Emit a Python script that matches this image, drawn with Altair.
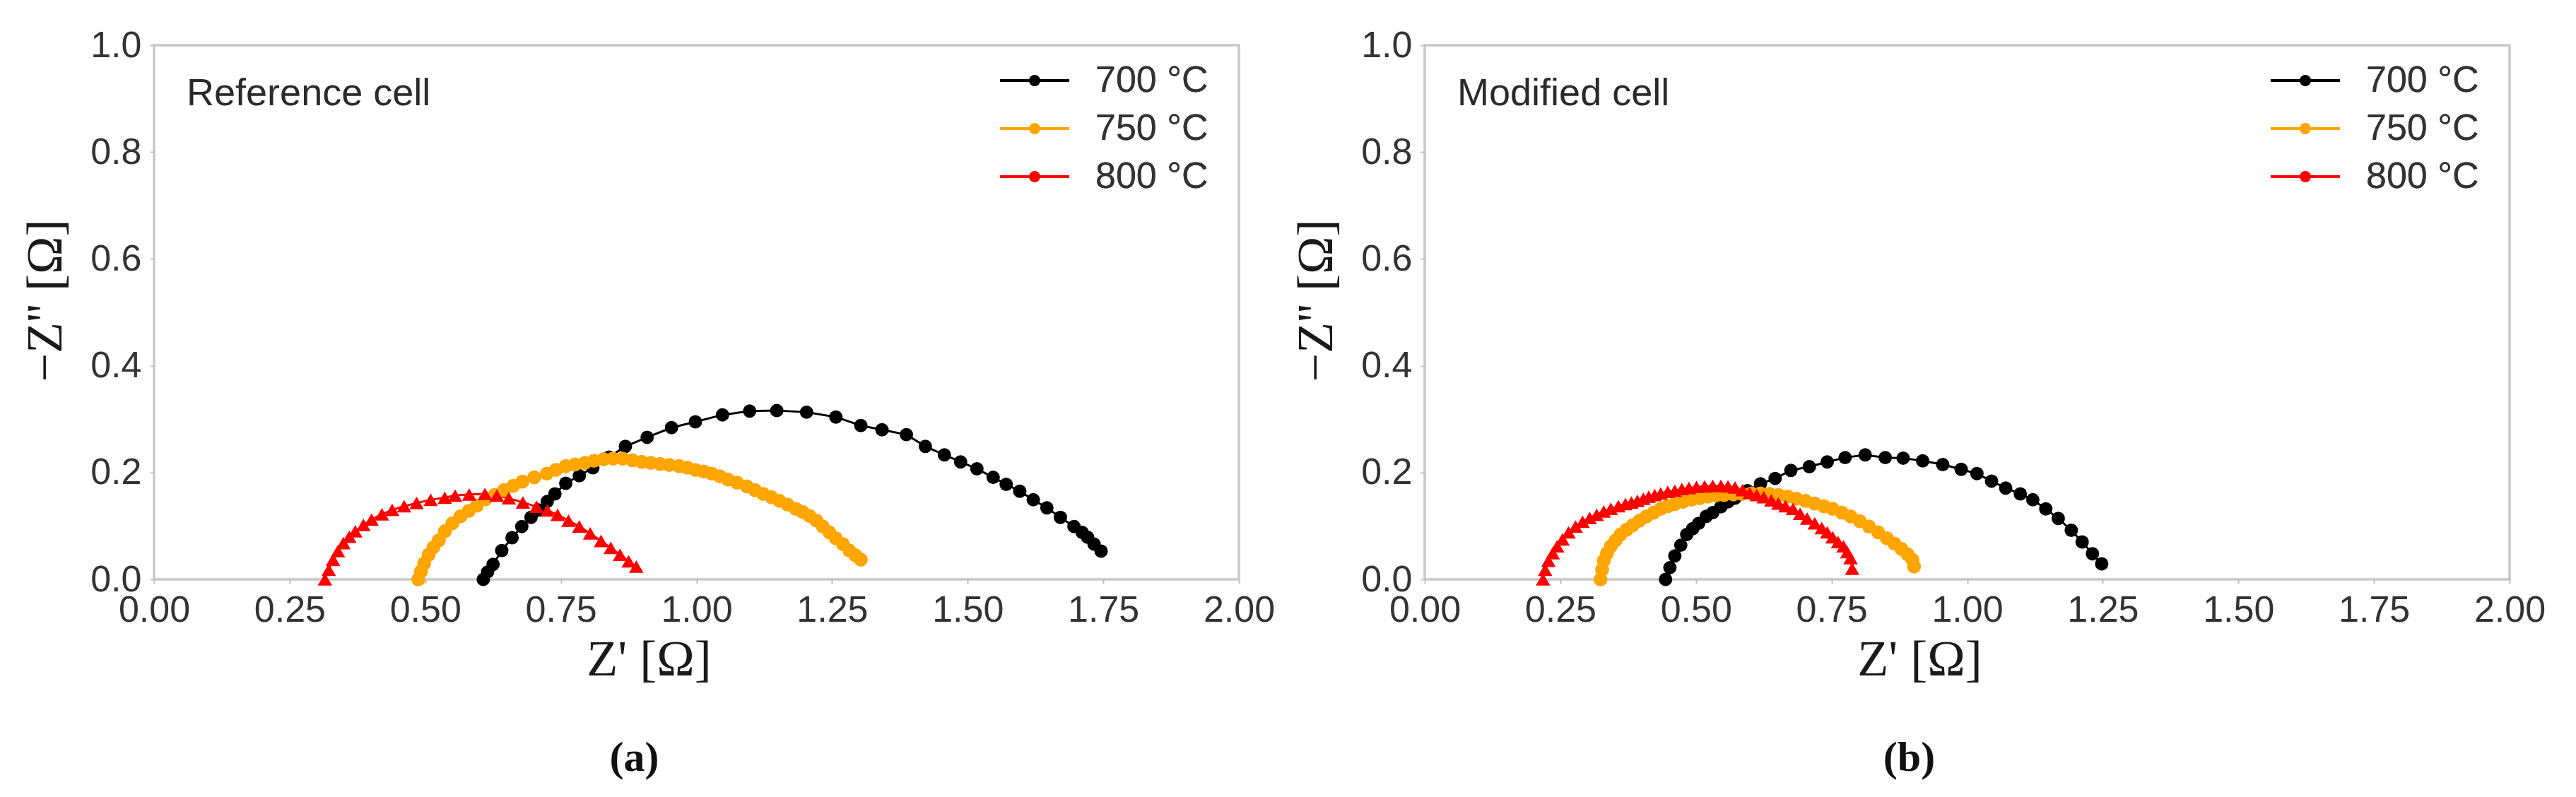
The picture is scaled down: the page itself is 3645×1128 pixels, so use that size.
import altair as alt
import pandas as pd

SERIES = ["700 °C", "750 °C", "800 °C"]
COLORS = ["#000000", "#FFA500", "#FF0000"]
SHAPES = ["circle", "circle", "triangle-up"]
SIZES = [360, 420, 400]

# ---- Panel (a): Reference cell ----
A700_X = [0.607, 0.615, 0.625, 0.641, 0.660, 0.678, 0.695, 0.709, 0.725, 0.739, 0.759, 0.784, 0.809, 0.839, 0.869,
          0.909, 0.954, 0.998, 1.048, 1.098, 1.148, 1.203, 1.257, 1.303, 1.342, 1.387, 1.422, 1.457, 1.487, 1.517,
          1.547, 1.571, 1.596, 1.621, 1.646, 1.671, 1.696, 1.711, 1.721, 1.733, 1.746]
A700_Y = [0.000, 0.014, 0.028, 0.054, 0.078, 0.099, 0.116, 0.130, 0.146, 0.160, 0.180, 0.194, 0.209, 0.229, 0.249,
          0.266, 0.284, 0.295, 0.308, 0.315, 0.316, 0.313, 0.304, 0.288, 0.280, 0.271, 0.249, 0.233, 0.220, 0.207,
          0.191, 0.178, 0.165, 0.149, 0.134, 0.116, 0.099, 0.088, 0.079, 0.066, 0.053]

A750_X = [0.487, 0.492, 0.498, 0.506, 0.515, 0.525, 0.536, 0.550, 0.565, 0.580, 0.595, 0.611, 0.628, 0.645, 0.662,
          0.679, 0.701, 0.724, 0.741, 0.759, 0.776, 0.794, 0.811, 0.829, 0.846, 0.864, 0.882, 0.899, 0.916, 0.933,
          0.950, 0.968, 0.983, 0.998, 1.013, 1.028, 1.043, 1.058, 1.075, 1.093, 1.108, 1.123, 1.138, 1.153, 1.168,
          1.183, 1.196, 1.208, 1.221, 1.233, 1.245, 1.257, 1.270, 1.282, 1.293, 1.303]
A750_Y = [0.000, 0.015, 0.030, 0.046, 0.060, 0.073, 0.090, 0.105, 0.118, 0.128, 0.138, 0.150, 0.158, 0.167, 0.175,
          0.183, 0.191, 0.198, 0.205, 0.212, 0.215, 0.218, 0.222, 0.225, 0.226, 0.226, 0.223, 0.220, 0.218, 0.216,
          0.214, 0.212, 0.209, 0.205, 0.202, 0.198, 0.193, 0.187, 0.181, 0.174, 0.167, 0.160, 0.154, 0.147, 0.140,
          0.132, 0.126, 0.119, 0.110, 0.099, 0.088, 0.077, 0.066, 0.054, 0.045, 0.037]

A800_X = [0.315, 0.322, 0.330, 0.339, 0.349, 0.360, 0.371, 0.386, 0.401, 0.420, 0.439, 0.461, 0.484, 0.510, 0.536,
          0.555, 0.581, 0.610, 0.632, 0.654, 0.680, 0.705, 0.725, 0.744, 0.764, 0.784, 0.804, 0.824, 0.842, 0.859,
          0.875, 0.889]
A800_Y = [0.000, 0.018, 0.037, 0.053, 0.068, 0.080, 0.090, 0.102, 0.112, 0.122, 0.130, 0.137, 0.143, 0.149, 0.153,
          0.157, 0.159, 0.160, 0.157, 0.152, 0.144, 0.136, 0.129, 0.121, 0.110, 0.099, 0.086, 0.072, 0.059, 0.046,
          0.034, 0.024]

# ---- Panel (b): Modified cell ----
B700_X = [0.444, 0.452, 0.461, 0.472, 0.483, 0.494, 0.505, 0.519, 0.531, 0.546, 0.559, 0.572, 0.595, 0.619, 0.646,
          0.675, 0.709, 0.742, 0.775, 0.812, 0.849, 0.882, 0.918, 0.955, 0.989, 1.018, 1.045, 1.071, 1.098, 1.121,
          1.145, 1.168, 1.192, 1.212, 1.231, 1.248]
B700_Y = [0.000, 0.022, 0.044, 0.064, 0.084, 0.095, 0.105, 0.118, 0.125, 0.136, 0.145, 0.152, 0.166, 0.179, 0.189,
          0.204, 0.211, 0.220, 0.228, 0.233, 0.228, 0.227, 0.222, 0.215, 0.206, 0.198, 0.184, 0.171, 0.160, 0.149,
          0.132, 0.114, 0.092, 0.070, 0.048, 0.029]

B750_X = [0.324, 0.327, 0.330, 0.336, 0.343, 0.352, 0.361, 0.372, 0.383, 0.396, 0.409, 0.422, 0.435, 0.448, 0.461,
          0.476, 0.492, 0.507, 0.522, 0.537, 0.552, 0.569, 0.585, 0.602, 0.619, 0.636, 0.652, 0.669, 0.685, 0.702,
          0.719, 0.736, 0.752, 0.769, 0.785, 0.802, 0.819, 0.836, 0.852, 0.866, 0.879, 0.890, 0.899, 0.902]
B750_Y = [0.000, 0.018, 0.035, 0.049, 0.062, 0.073, 0.084, 0.093, 0.101, 0.110, 0.118, 0.125, 0.132, 0.137, 0.141,
          0.145, 0.149, 0.152, 0.155, 0.157, 0.158, 0.159, 0.160, 0.161, 0.161, 0.160, 0.158, 0.155, 0.151, 0.147,
          0.142, 0.137, 0.132, 0.125, 0.118, 0.109, 0.099, 0.088, 0.077, 0.067, 0.057, 0.047, 0.037, 0.024]

B800_X = [0.218, 0.222, 0.228, 0.236, 0.244, 0.254, 0.265, 0.278, 0.291, 0.304, 0.317, 0.330, 0.343, 0.357, 0.370,
          0.381, 0.392, 0.403, 0.413, 0.424, 0.435, 0.448, 0.461, 0.474, 0.487, 0.501, 0.516, 0.531, 0.546, 0.559,
          0.572, 0.586, 0.599, 0.612, 0.625, 0.639, 0.652, 0.665, 0.679, 0.692, 0.705, 0.719, 0.732, 0.742, 0.752,
          0.762, 0.772, 0.779, 0.785, 0.788]
B800_Y = [0.000, 0.018, 0.035, 0.049, 0.062, 0.075, 0.088, 0.099, 0.108, 0.115, 0.121, 0.127, 0.132, 0.137, 0.141,
          0.144, 0.147, 0.151, 0.155, 0.158, 0.161, 0.164, 0.166, 0.169, 0.171, 0.173, 0.174, 0.175, 0.175, 0.174,
          0.172, 0.167, 0.162, 0.158, 0.154, 0.148, 0.142, 0.137, 0.132, 0.123, 0.114, 0.105, 0.096, 0.088, 0.079,
          0.070, 0.062, 0.051, 0.040, 0.020]

X_TICKS = [0.0, 0.25, 0.5, 0.75, 1.0, 1.25, 1.5, 1.75, 2.0]
Y_TICKS = [0.0, 0.2, 0.4, 0.6, 0.8, 1.0]

PANEL_TEXT = ["Reference cell", "Modified cell"]
PANEL_LETTER = ["(a)", "(b)"]
TEXT_POS = [0.06, 0.888]

LEGEND_PATH = "M-3.27,0H3.27M-0.4,0A0.4,0.4,0,1,0,0.4,0A0.4,0.4,0,1,0,-0.4,0"


def build_df(xs_list, ys_list):
    rows = []
    for name, xs, ys in zip(SERIES, xs_list, ys_list):
        for i, (x, y) in enumerate(zip(xs, ys)):
            rows.append({"series": name, "zr": x, "zi": y, "idx": i})
    return pd.DataFrame(rows)


def legend():
    return alt.Legend(
        title=None, orient="none", legendX=1220, legendY=24, padding=0,
        symbolType=LEGEND_PATH, symbolSize=900, symbolStrokeWidth=4,
        labelFont="Liberation Sans", labelFontSize=52, labelColor="#333333",
        labelOffset=60, rowPadding=16,
    )


def panel(df, text, letter, dx):
    xenc = alt.X("zr:Q", scale=alt.Scale(domain=[0, 2], nice=False, zero=False),
                 axis=alt.Axis(values=X_TICKS, format=".2f", title="Z' [Ω]", labelFlush=False,
                               titleX=700, titleY=135, titleBaseline="alphabetic"))
    yenc = alt.Y("zi:Q", scale=alt.Scale(domain=[0, 1], nice=False, zero=False),
                 axis=alt.Axis(values=Y_TICKS, format=".1f", title="−Z'' [Ω]",
                               titleX=-132, titleY=361, titleBaseline="alphabetic"))
    scale = alt.Scale(domain=SERIES, range=COLORS)
    lines = alt.Chart(df).mark_line(strokeWidth=3).encode(
        x=xenc, y=yenc, order="idx:Q",
        stroke=alt.Stroke("series:N", scale=scale, legend=legend()),
    )
    pts = alt.Chart(df).mark_point(filled=True, opacity=1, strokeWidth=0).encode(
        x="zr:Q", y="zi:Q",
        fill=alt.Fill("series:N", scale=scale, legend=legend()),
        shape=alt.Shape("series:N", scale=alt.Scale(domain=SERIES, range=SHAPES), legend=None),
        size=alt.Size("series:N", scale=alt.Scale(domain=SERIES, range=SIZES), legend=None),
    )
    ann = alt.Chart(pd.DataFrame({"zr": [TEXT_POS[0]], "zi": [TEXT_POS[1]], "t": [text]})).mark_text(
        align="left", baseline="alphabetic", font="Liberation Sans", fontSize=54, color="#2a2a2a"
    ).encode(x="zr:Q", y="zi:Q", text="t:N")
    return alt.layer(lines, pts, ann).properties(
        width=1535, height=756,
        title=alt.TitleParams(letter, orient="bottom", anchor="middle", frame="group", dx=dx, offset=75,
                              font="Liberation Serif", fontSize=60, fontWeight="bold", color="#111111"),
    ).resolve_scale(stroke="independent", fill="independent")


dfa = build_df([A700_X, A750_X, A800_X], [A700_Y, A750_Y, A800_Y])
dfb = build_df([B700_X, B750_X, B800_X], [B700_Y, B750_Y, B800_Y])

chart = alt.hconcat(
    panel(dfa, PANEL_TEXT[0], PANEL_LETTER[0], -88),
    panel(dfb, PANEL_TEXT[1], PANEL_LETTER[1], -82),
    spacing=18,
).resolve_scale(
    stroke="independent", fill="independent", shape="independent", size="independent"
).resolve_legend(
    stroke="independent", fill="independent"
).properties(
    padding={"left": 18, "top": 28, "right": 5, "bottom": 5},
    background="white",
).configure_view(
    stroke="#c8c8c8", strokeWidth=3.5
).configure_axis(
    domain=False, grid=False, tickColor="#c0c0c0", tickSize=6, tickWidth=2,
    labelFont="Liberation Sans", labelFontSize=52, labelColor="#333333", labelPadding=12,
    titleFont="Liberation Serif", titleFontSize=72, titleColor="#1a1a1a", titleFontWeight="normal",
)

chart.save("out.html", embed_options={"renderer": "svg", "actions": False})
